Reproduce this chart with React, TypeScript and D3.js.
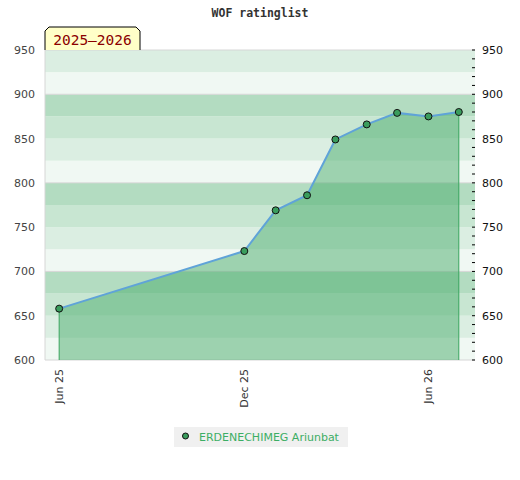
import React from "react";
import * as d3 from "d3";

const title = "WOF ratinglist";
const seasonLabel = "2025–2026";
const playerName = "ERDENECHIMEG Ariunbat";
const listDates = ["2025-06-01", "2025-12-01", "2026-01-01", "2026-02-01", "2026-03-01", "2026-04-01", "2026-05-01", "2026-06-01", "2026-07-01"];
const ratings = [658, 723, 769, 786, 849, 866, 879, 875, 880];
const xTickDates = ["2025-06-01", "2025-12-01", "2026-06-01"];
const xTickLabels = ["Jun 25", "Dec 25", "Jun 26"];
const yTicks = [600, 650, 700, 750, 800, 850, 900, 950];
const xDomain = ["2025-05-18", "2026-07-17"];
const yDomain = [600, 950];

const W = 520, H = 480;
const L = 45, R = 475, T = 50, B = 360;

const parse = (s: string) => new Date(s + "T00:00:00Z");

const bandColors: Record<number, string> = { 0: "#f0f8f3", 25: "#dbeee2", 50: "#c8e6d2", 75: "#b3dcc1" };

export default function App() {
  const x = d3.scaleUtc().domain(xDomain.map(parse)).range([L, R]);
  const y = d3.scaleLinear().domain(yDomain).range([B, T]);
  const pts = listDates.map((d, i) => ({ d: parse(d), v: ratings[i] }));
  const area = d3.area<{ d: Date; v: number }>().x(p => x(p.d)).y0(B).y1(p => y(p.v));
  const line = d3.line<{ d: Date; v: number }>().x(p => x(p.d)).y(p => y(p.v));
  const bands = d3.range(yDomain[0], yDomain[1], 25);
  const minor = d3.range(yDomain[0], yDomain[1] + 1, 10);
  const font = "'DejaVu Sans', Verdana, sans-serif";
  const mono = "'DejaVu Sans Mono', monospace";
  const first = pts[0], last = pts[pts.length - 1];
  return (
    <svg width={W} height={H} style={{ position: "absolute", left: 0, top: 0, background: "#fff" }}>
      <text x={260} y={17} textAnchor="middle" fontFamily={mono} fontWeight="bold" fontSize={11.5} fill="#333">{title}</text>
      {bands.map(b => (
        <rect key={b} x={L} width={R - L} y={y(b + 25)} height={y(b) - y(b + 25)} fill={bandColors[b % 100]} />
      ))}
      {[700, 800, 900, 950].map(v => (
        <line key={v} x1={L} x2={R} y1={y(v)} y2={y(v)} stroke="#d6d6d6" strokeWidth={1} />
      ))}
      <line x1={L} x2={L} y1={T} y2={B} stroke="#d6d6d6" />
      <line x1={L} x2={R} y1={B} y2={B} stroke="#d6d6d6" />
      <path d={area(pts) || ""} fill="rgb(73,172,108)" fillOpacity={0.5} stroke="none" />
      <line x1={x(first.d)} x2={x(first.d)} y1={y(first.v)} y2={B} stroke="#3aa55e" />
      <line x1={x(last.d)} x2={x(last.d)} y1={y(last.v)} y2={B} stroke="#3aa55e" />
      <path d={line(pts) || ""} fill="none" stroke="#5fa3d8" strokeWidth={2} />
      {pts.map((p, i) => (
        <circle key={i} cx={x(p.d)} cy={y(p.v)} r={3.5} fill="#3a9d5d" stroke="#111" strokeWidth={1} />
      ))}
      {yTicks.map(v => (
        <text key={"l" + v} x={35} y={y(v) + 4} textAnchor="end" fontFamily={font} fontSize={11} fill="#444">{v}</text>
      ))}
      {minor.map(v => (
        <line key={"m" + v} x1={R - 3} x2={R} y1={y(v)} y2={y(v)} stroke="#000" />
      ))}
      {yTicks.map(v => (
        <text key={"r" + v} x={482} y={y(v) + 4} textAnchor="start" fontFamily={font} fontSize={11} fill="#111">{v}</text>
      ))}
      {xTickDates.map((d, i) => (
        <text key={d} transform={`translate(${x(parse(d)) + 4},369) rotate(-90)`} textAnchor="end" fontFamily={font} fontSize={11} fill="#333">{xTickLabels[i]}</text>
      ))}
      <path d={`M${L},${T} L${L},31 L49,27 L136,27 L140,31 L140,${T}`} fill="#ffffc8" stroke="#000" strokeWidth={1} />
      <text x={92.5} y={45} textAnchor="middle" fontFamily={mono} fontSize={14.5} fill="#8b0000">{seasonLabel}</text>
      <rect x={174} y={427} width={174} height={20} fill="#f0f0f0" />
      <circle cx={185.5} cy={436} r={3} fill="#3a9d5d" stroke="#111" strokeWidth={1} />
      <text x={199} y={441} fontFamily={font} fontSize={11} fill="#3cae64">{playerName}</text>
    </svg>
  );
}
